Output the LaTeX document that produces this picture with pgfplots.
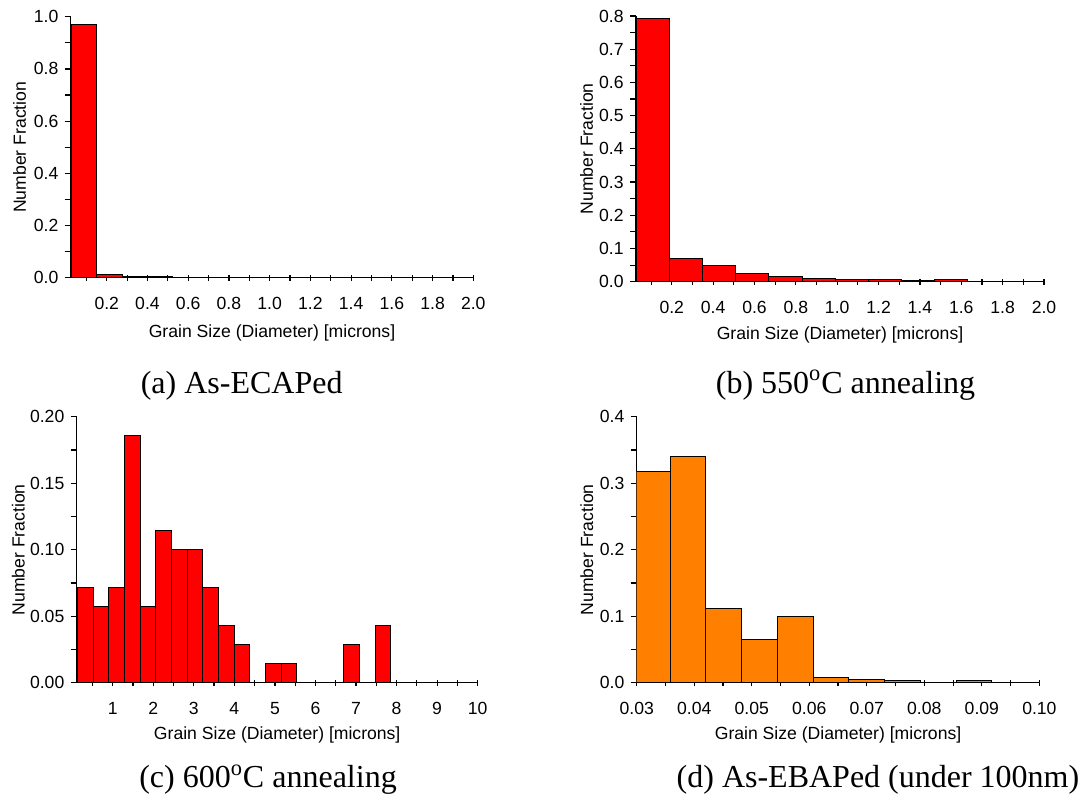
\documentclass[border=0pt]{standalone}
\usepackage{pgfplots}
\pgfplotsset{compat=1.18}
\usepackage{fontspec}
\setmainfont{Liberation Serif}
\newfontfamily\arial{Liberation Sans}
\definecolor{barred}{RGB}{255,0,0}
\definecolor{barorange}{RGB}{255,128,0}
\pgfplotsset{
 panel/.style={
  scale only axis,
  axis lines=left,
  axis line style={-, line width=0.6pt, black},
  every tick/.style={black, line width=0.6pt},
  major tick length=3pt, minor tick length=3pt,
  xtick align=center, ytick align=outside,
  tick label style={font=\arial\fontsize{8.8}{10}\selectfont, black},
  label style={font=\arial\fontsize{8.8}{10}\selectfont, black},
  xticklabel style={anchor=center, yshift=-11.5pt},
  yticklabel style={anchor=east, inner sep=0pt, xshift=-3pt},
  xlabel={Grain Size (Diameter) [microns]},
  ylabel={Number Fraction},
  anchor=south west,
  ymin=0,
 },
}
\begin{document}
\begin{tikzpicture}
\path[use as bounding box] (0,0) rectangle (541pt,-400pt);

% (a) As-ECAPed
\begin{axis}[panel,
  at={(35.35pt,-138.85pt)}, width=201.3pt, height=130.5pt,
  xmin=0.023, xmax=2.0, ymax=1.0,
  xtick={0.2,0.4,0.6,0.8,1.0,1.2,1.4,1.6,1.8,2.0},
  xticklabels={0.2,0.4,0.6,0.8,1.0,1.2,1.4,1.6,1.8,2.0},
  minor xtick={0.1,0.3,0.5,0.7,0.9,1.1,1.3,1.5,1.7,1.9},
  ytick={0,0.2,0.4,0.6,0.8,1.0},
  yticklabels={0.0,0.2,0.4,0.6,0.8,1.0},
  minor ytick={0.1,0.3,0.5,0.7,0.9},
  xlabel style={at={(axis description cs:0.5,-0.212)}, anchor=center},
  ylabel style={at={(axis description cs:-0.127,0.5)}, anchor=center},
]
\addplot[ybar interval, fill=barred, draw=black, line width=0.5pt] coordinates {
 (0.028,0.971) (0.152,0.012) (0.276,0.006) (0.400,0.003) (0.524,0)
};
\end{axis}

% (b) 550C annealing
\begin{axis}[panel,
  at={(318pt,-140.85pt)}, width=204pt, height=132.85pt,
  xmin=0.027, xmax=2.0, ymax=0.8,
  xtick={0.2,0.4,0.6,0.8,1.0,1.2,1.4,1.6,1.8,2.0},
  xticklabels={0.2,0.4,0.6,0.8,1.0,1.2,1.4,1.6,1.8,2.0},
  minor xtick={0.1,0.3,0.5,0.7,0.9,1.1,1.3,1.5,1.7,1.9},
  ytick={0,0.1,0.2,0.3,0.4,0.5,0.6,0.7,0.8},
  yticklabels={0.0,0.1,0.2,0.3,0.4,0.5,0.6,0.7,0.8},
  minor ytick={0.05,0.15,0.25,0.35,0.45,0.55,0.65,0.75},
  xlabel style={at={(axis description cs:0.5,-0.2)}, anchor=center},
  ylabel style={at={(axis description cs:-0.121,0.5)}, anchor=center},
]
\addplot[ybar interval, fill=barred, draw=black, line width=0.5pt] coordinates {
 (0.03,0.793) (0.19,0.070) (0.35,0.050) (0.51,0.025) (0.67,0.017)
 (0.83,0.010) (0.99,0.006) (1.15,0.006) (1.31,0.003) (1.47,0.006)
 (1.63,0) (1.79,0) (1.95,0.002) (2.11,0)
};
\end{axis}

% (c) 600C annealing
\begin{axis}[panel,
  at={(38.35pt,-341.35pt)}, width=200.5pt, height=133pt,
  xmin=0.113, xmax=10, ymax=0.2,
  xtick={1,2,3,4,5,6,7,8,9,10},
  xticklabels={1,2,3,4,5,6,7,8,9,10},
  minor xtick={0.5,1.5,2.5,3.5,4.5,5.5,6.5,7.5,8.5,9.5},
  ytick={0,0.05,0.1,0.15,0.2},
  yticklabels={0.00,0.05,0.10,0.15,0.20},
  minor ytick={0.025,0.075,0.125,0.175},
  xlabel style={at={(axis description cs:0.5,-0.198)}, anchor=center},
  ylabel style={at={(axis description cs:-0.1456,0.5)}, anchor=center},
]
\addplot[ybar interval, fill=barred, draw=black, line width=0.5pt] coordinates {
 (0.129,0.0714) (0.516,0.0571) (0.902,0.0714) (1.289,0.1857) (1.675,0.0571)
 (2.062,0.1143) (2.449,0.1000) (2.835,0.1000) (3.222,0.0714) (3.608,0.0429)
 (3.995,0.0286) (4.382,0) (4.768,0.0143) (5.155,0.0143) (5.541,0)
 (5.928,0) (6.315,0) (6.701,0.0286) (7.088,0) (7.474,0.0429) (7.861,0)
};
\end{axis}

% (d) As-EBAPed
\begin{axis}[panel,
  at={(318.35pt,-341.35pt)}, width=201.35pt, height=133pt,
  xmin=0.03, xmax=0.10, ymax=0.4,
  xtick={0.03,0.04,0.05,0.06,0.07,0.08,0.09,0.10},
  xticklabels={0.03,0.04,0.05,0.06,0.07,0.08,0.09,0.10},
  minor xtick={0.035,0.045,0.055,0.065,0.075,0.085,0.095},
  ytick={0,0.1,0.2,0.3,0.4},
  yticklabels={0.0,0.1,0.2,0.3,0.4},
  minor ytick={0.05,0.15,0.25,0.35},
  xlabel style={at={(axis description cs:0.5,-0.198)}, anchor=center},
  ylabel style={at={(axis description cs:-0.124,0.5)}, anchor=center},
]
\addplot[ybar interval, fill=barorange, draw=black, line width=0.5pt] coordinates {
 (0.0296,0.318) (0.03582,0.340) (0.04204,0.111) (0.04825,0.065) (0.05446,0.100)
 (0.06068,0.0075) (0.0669,0.005) (0.07311,0.003) (0.07933,0.001) (0.08554,0.003)
 (0.09176,0.001) (0.09798,0.001) (0.1042,0)
};
\end{axis}

\node[anchor=base, font=\fontsize{16}{19}\selectfont] at (120.85pt,-196.65pt) {(a) As-ECAPed};
\node[anchor=base, font=\fontsize{16}{19}\selectfont] at (422.75pt,-196.5pt) {(b) 550\textsuperscript{o}C annealing};
\node[anchor=base, font=\fontsize{16}{19}\selectfont] at (134pt,-393.85pt) {(c) 600\textsuperscript{o}C annealing};
\node[anchor=base, font=\fontsize{16}{19}\selectfont] at (439pt,-393.85pt) {(d) As-EBAPed (under 100nm)};
\end{tikzpicture}
\end{document}
